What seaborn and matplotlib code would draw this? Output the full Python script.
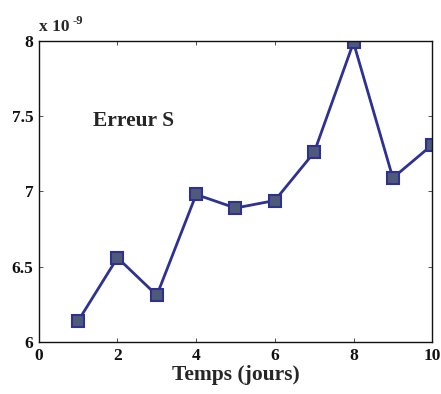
import numpy as np
import pandas as pd
import matplotlib
matplotlib.use("Agg")
import matplotlib.pyplot as plt
import seaborn as sns

# error values, in units of 1e-9
days = [1, 2, 3, 4, 5, 6, 7, 8, 9, 10]
erreur = [6.14, 6.56, 6.31, 6.98, 6.89, 6.94, 7.26, 7.99, 7.09, 7.31]

df = pd.DataFrame({"Temps": days, "Erreur": erreur})

sns.set_style("ticks")
plt.rcParams["font.family"] = ["Liberation Serif", "DejaVu Serif"]
plt.rcParams["font.weight"] = "bold"
plt.rcParams["xtick.direction"] = "in"
plt.rcParams["ytick.direction"] = "in"

fig = plt.figure(figsize=(4.41, 3.94), dpi=100)
ax = fig.add_axes([0.088, 0.132, 0.892, 0.764])

sns.lineplot(data=df, x="Temps", y="Erreur", ax=ax, color="#2e3192",
             linewidth=2, marker="s", markersize=8.5,
             markerfacecolor="#4f5a78", markeredgecolor="#2e3192",
             markeredgewidth=1.5)

ax.set_xlim(0, 10)
ax.set_ylim(6, 8)
ax.set_xticks([0, 2, 4, 6, 8, 10])
ax.set_yticks([6, 6.5, 7, 7.5, 8])
ax.set_yticklabels(["6", "6.5", "7", "7.5", "8"])
ax.tick_params(top=True, right=True, labelsize=12.5, width=0.6, length=3,
               colors="#333333", labelcolor="#111111", pad=4)
for lbl in ax.get_xticklabels() + ax.get_yticklabels():
    lbl.set_fontweight("bold")
for s in ax.spines.values():
    s.set_linewidth(1.0)
    s.set_color("#111111")

ax.set_xlabel("Temps (jours)", fontsize=15.5, fontweight="bold", labelpad=1)
ax.set_ylabel("")
ax.text(0.0, 1.02, "x 10", transform=ax.transAxes,
        fontsize=12.5, fontweight="bold", va="bottom", ha="left")
ax.text(0.085, 1.048, "-9", transform=ax.transAxes,
        fontsize=9, fontweight="bold", va="bottom", ha="left")
ax.text(1.37, 7.47, "Erreur S", fontsize=15.5, fontweight="bold",
        va="center", ha="left")

fig.savefig("out.png", dpi=100)
